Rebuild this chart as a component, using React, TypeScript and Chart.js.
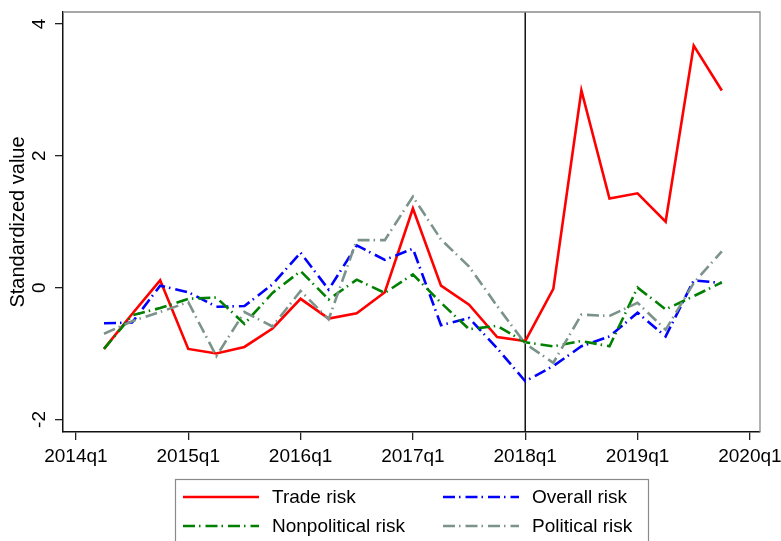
import React, { useEffect, useRef } from "react";
import { Chart, registerables } from "chart.js";

Chart.register(...registerables);

// ---- data ----
const periods = [
  "2014q2", "2014q3", "2014q4",
  "2015q1", "2015q2", "2015q3", "2015q4",
  "2016q1", "2016q2", "2016q3", "2016q4",
  "2017q1", "2017q2", "2017q3", "2017q4",
  "2018q1", "2018q2", "2018q3", "2018q4",
  "2019q1", "2019q2", "2019q3", "2019q4",
];
const xTickLabels = ["2014q1", "2015q1", "2016q1", "2017q1", "2018q1", "2019q1", "2020q1"];
const yTickValues = [-2, 0, 2, 4];
const eventPeriod = "2018q1";

const tradeRisk = [-0.93, -0.4, 0.11, -0.93, -1.0, -0.9, -0.62, -0.17, -0.47, -0.39, -0.07, 1.2, 0.03, -0.26, -0.75, -0.81, -0.02, 2.99, 1.35, 1.43, 1.0, 3.67, 2.99];
const overallRisk = [-0.54, -0.53, 0.03, -0.07, -0.29, -0.28, 0.05, 0.53, -0.03, 0.64, 0.42, 0.59, -0.57, -0.46, -0.92, -1.42, -1.19, -0.89, -0.74, -0.38, -0.74, 0.11, 0.07];
const nonpoliticalRisk = [-0.93, -0.42, -0.31, -0.17, -0.15, -0.55, -0.08, 0.25, -0.18, 0.12, -0.08, 0.2, -0.23, -0.63, -0.58, -0.83, -0.89, -0.81, -0.89, 0.0, -0.33, -0.13, 0.08];
const politicalRisk = [-0.7, -0.51, -0.37, -0.22, -1.04, -0.37, -0.59, -0.05, -0.48, 0.72, 0.72, 1.38, 0.73, 0.32, -0.28, -0.85, -1.14, -0.41, -0.43, -0.23, -0.64, 0.07, 0.55];

const FONT = "'Liberation Sans', Arial, Helvetica, sans-serif";

const qIndex = (p: string) => {
  const y = parseInt(p.slice(0, 4), 10);
  const q = parseInt(p.slice(5), 10);
  return (y - 2014) * 4 + (q - 1);
};
const xTickValues = xTickLabels.map(qIndex);

const toPoints = (vals: number[]) => vals.map((v, i) => ({ x: qIndex(periods[i]), y: v }));

const DASH = [12, 4, 1.5, 5];

const decorPlugin = {
  id: "decor",
  beforeDatasetsDraw(chart: any) {
    const { ctx, chartArea, scales } = chart;
    const px = scales.x.getPixelForValue(qIndex(eventPeriod));
    ctx.save();
    ctx.strokeStyle = "#111";
    ctx.lineWidth = 1.5;
    ctx.beginPath();
    ctx.moveTo(px, chartArea.top);
    ctx.lineTo(px, chartArea.bottom);
    ctx.stroke();
    ctx.restore();
  },
  afterDraw(chart: any) {
    const { ctx, chartArea, scales } = chart;
    ctx.save();
    // top and right frame
    ctx.strokeStyle = "#8a8a8a";
    ctx.lineWidth = 1.3;
    ctx.beginPath();
    ctx.moveTo(chartArea.left, chartArea.top);
    ctx.lineTo(chartArea.right, chartArea.top);
    ctx.lineTo(chartArea.right, chartArea.bottom);
    ctx.stroke();

    // rotated y tick labels
    ctx.fillStyle = "#000";
    ctx.font = `19px ${FONT}`;
    ctx.textAlign = "center";
    ctx.textBaseline = "middle";
    yTickValues.forEach((v) => {
      const py = scales.y.getPixelForValue(v);
      ctx.save();
      ctx.translate(40, py);
      ctx.rotate(-Math.PI / 2);
      ctx.fillText(String(v), 0, 0);
      ctx.restore();
    });

    // legend
    const boxL = 175.5, boxT = 479.5, boxW = 473, boxH = 80;
    ctx.fillStyle = "#fff";
    ctx.fillRect(boxL, boxT, boxW, boxH);
    ctx.strokeStyle = "#8a8a8a";
    ctx.lineWidth = 1.2;
    ctx.strokeRect(boxL, boxT, boxW, boxH);
    const colX = [183, 443];
    const rowY = [497, 526];
    chart.data.datasets.forEach((ds: any, i: number) => {
      const cx = colX[i % 2];
      const cy = rowY[Math.floor(i / 2)];
      ctx.save();
      ctx.strokeStyle = ds.borderColor;
      ctx.lineWidth = ds.borderWidth;
      ctx.setLineDash(ds.borderDash || []);
      ctx.beginPath();
      ctx.moveTo(cx, cy);
      ctx.lineTo(cx + 76, cy);
      ctx.stroke();
      ctx.restore();
      ctx.fillStyle = "#000";
      ctx.font = `19px ${FONT}`;
      ctx.textAlign = "left";
      ctx.textBaseline = "middle";
      ctx.fillText(ds.label, cx + 89, cy + 1);
    });
    ctx.restore();
  },
};

export default function App() {
  const canvasRef = useRef<HTMLCanvasElement | null>(null);

  useEffect(() => {
    document.body.style.margin = "0";
    const canvas = canvasRef.current;
    if (!canvas) return;
    const chart = new Chart(canvas, {
      type: "line",
      data: {
        datasets: [
          { label: "Trade risk", data: toPoints(tradeRisk), borderColor: "#ff0000", borderWidth: 2.6, order: 4 },
          { label: "Overall risk", data: toPoints(overallRisk), borderColor: "#0000ff", borderWidth: 2.6, borderDash: DASH, order: 3 },
          { label: "Nonpolitical risk", data: toPoints(nonpoliticalRisk), borderColor: "#008000", borderWidth: 2.6, borderDash: DASH, order: 2 },
          { label: "Political risk", data: toPoints(politicalRisk), borderColor: "#7b938a", borderWidth: 2.6, borderDash: DASH, order: 1 },
        ] as any,
      },
      options: {
        animation: false,
        responsive: false,
        devicePixelRatio: 1,
        layout: { padding: { top: 12, right: 21, left: 0, bottom: 0 } },
        elements: {
          point: { radius: 0, hoverRadius: 0 },
          line: { tension: 0, fill: false, borderCapStyle: "butt", borderJoinStyle: "miter" },
        },
        plugins: { legend: { display: false }, tooltip: { enabled: false } },
        scales: {
          x: {
            type: "linear",
            min: -0.46,
            max: 24.36,
            afterBuildTicks: (scale: any) => {
              scale.ticks = xTickValues.map((v) => ({ value: v }));
            },
            afterFit: (scale: any) => {
              scale.height = 109;
              scale.paddingLeft = 0;
              scale.paddingRight = 0;
            },
            ticks: {
              autoSkip: false,
              maxRotation: 0,
              minRotation: 0,
              padding: 5,
              color: "#000",
              font: { family: FONT, size: 19 },
              callback: (v: any) => {
                const idx = xTickValues.indexOf(Number(v));
                return idx >= 0 ? xTickLabels[idx] : "";
              },
            },
            grid: { drawOnChartArea: false, drawTicks: true, tickLength: 8, color: "#222", lineWidth: 1.3 },
            border: { display: true, color: "#111", width: 1.5 },
          },
          y: {
            type: "linear",
            min: -2.19,
            max: 4.18,
            afterBuildTicks: (scale: any) => {
              scale.ticks = yTickValues.map((v) => ({ value: v }));
            },
            afterFit: (scale: any) => {
              scale.width = 63;
              scale.paddingTop = 0;
              scale.paddingBottom = 0;
            },
            ticks: { display: false },
            grid: { drawOnChartArea: false, drawTicks: true, tickLength: 8, color: "#222", lineWidth: 1.3 },
            border: { display: true, color: "#111", width: 1.5 },
            title: {
              display: true,
              text: "Standardized value",
              color: "#000",
              font: { family: FONT, size: 20 },
              padding: { top: 6, bottom: 0 },
            },
          },
        },
      },
      plugins: [decorPlugin],
    } as any);
    return () => chart.destroy();
  }, []);

  return (
    <div style={{ width: 781, height: 541 }}>
      <canvas ref={canvasRef} width={781} height={541} style={{ display: "block", width: 781, height: 541 }} />
    </div>
  );
}
